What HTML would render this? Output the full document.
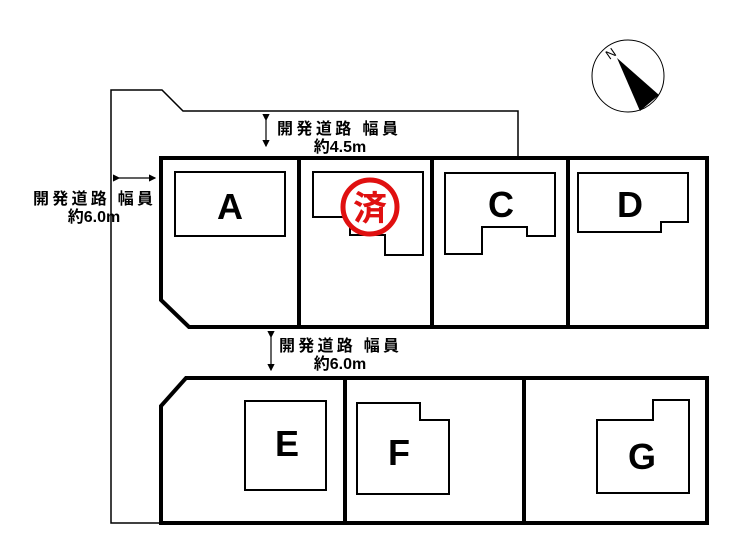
<!DOCTYPE html>
<html><head><meta charset="utf-8"><style>
html,body{margin:0;padding:0;background:#fff;}
svg{display:block;}
text{font-family:"Liberation Sans","Noto Sans CJK JP",sans-serif;}
</style></head><body>
<svg width="740" height="550" viewBox="0 0 740 550" xmlns="http://www.w3.org/2000/svg">
<defs><marker id="ah" markerWidth="6" markerHeight="6" refX="5" refY="3" orient="auto"><path d="M0,0 L6,3 L0,6 z" fill="#000"/></marker></defs>
<polyline points="161,523 111,523 111,90 162,90 183,111 518,111 518,157" fill="none" stroke="#000" stroke-width="1.5"/>
<polygon points="161,158 707,158 707,327 189,327 161,300" fill="none" stroke="#000" stroke-width="4"/>
<line x1="299" y1="158" x2="299" y2="327" stroke="#000" stroke-width="4"/>
<line x1="432" y1="158" x2="432" y2="327" stroke="#000" stroke-width="4"/>
<line x1="568" y1="158" x2="568" y2="327" stroke="#000" stroke-width="4"/>
<polygon points="186,378 707,378 707,523 161,523 161,406" fill="none" stroke="#000" stroke-width="4"/>
<line x1="345" y1="378" x2="345" y2="523" stroke="#000" stroke-width="4"/>
<line x1="524" y1="378" x2="524" y2="523" stroke="#000" stroke-width="4"/>
<g fill="none" stroke="#000" stroke-width="2">
<rect x="175" y="172" width="110" height="64"/>
<polygon points="313,172 423,172 423,255 385,255 385,235 350,235 350,217 313,217"/>
<polygon points="445,173 555,173 555,236 527,236 527,227 482,227 482,254 445,254"/>
<polygon points="578,173 688,173 688,222 661,222 661,232 578,232"/>
<rect x="245" y="401" width="81" height="89"/>
<polygon points="357,403 420,403 420,420 449,420 449,494 357,494"/>
<polygon points="653,400 689,400 689,493 597,493 597,420 653,420"/>
</g>
<g font-size="36" font-weight="bold" text-anchor="middle">
<text x="230" y="219">A</text>
<text x="501" y="217">C</text>
<text x="630" y="217">D</text>
<text x="287" y="456">E</text>
<text x="399" y="465">F</text>
<text x="642" y="469">G</text>
</g>
<circle cx="370" cy="207" r="27" fill="#fff" stroke="#e01010" stroke-width="5"/>
<text x="370" y="220" font-size="34" font-weight="bold" fill="#e01010" text-anchor="middle">済</text>
<circle cx="628" cy="76" r="36" fill="#fff" stroke="#000" stroke-width="1"/>
<polygon points="617,58 659,95 640,111" fill="#000"/>
<text x="611" y="58" font-size="13" font-family="Liberation Serif" transform="rotate(-35 611 54)" text-anchor="middle">N</text>
<g font-size="16" font-weight="bold">
<line x1="266" y1="120" x2="266" y2="146" stroke="#000" stroke-width="1.2" marker-end="url(#ah)" marker-start="url(#ah)"/>
<text x="277" y="134" textLength="121" lengthAdjust="spacing">開発道路 幅員</text>
<text x="340" y="152" text-anchor="middle">約4.5m</text>
<line x1="119" y1="178" x2="155" y2="178" stroke="#000" stroke-width="1.2" marker-end="url(#ah)" marker-start="url(#ah)"/>
<text x="33" y="204" textLength="120" lengthAdjust="spacing">開発道路 幅員</text>
<text x="94" y="222" text-anchor="middle">約6.0m</text>
<line x1="271" y1="337" x2="271" y2="370" stroke="#000" stroke-width="1.2" marker-end="url(#ah)" marker-start="url(#ah)"/>
<text x="279" y="351" textLength="120" lengthAdjust="spacing">開発道路 幅員</text>
<text x="340" y="369" text-anchor="middle">約6.0m</text>
</g>
</svg>
</body></html>
